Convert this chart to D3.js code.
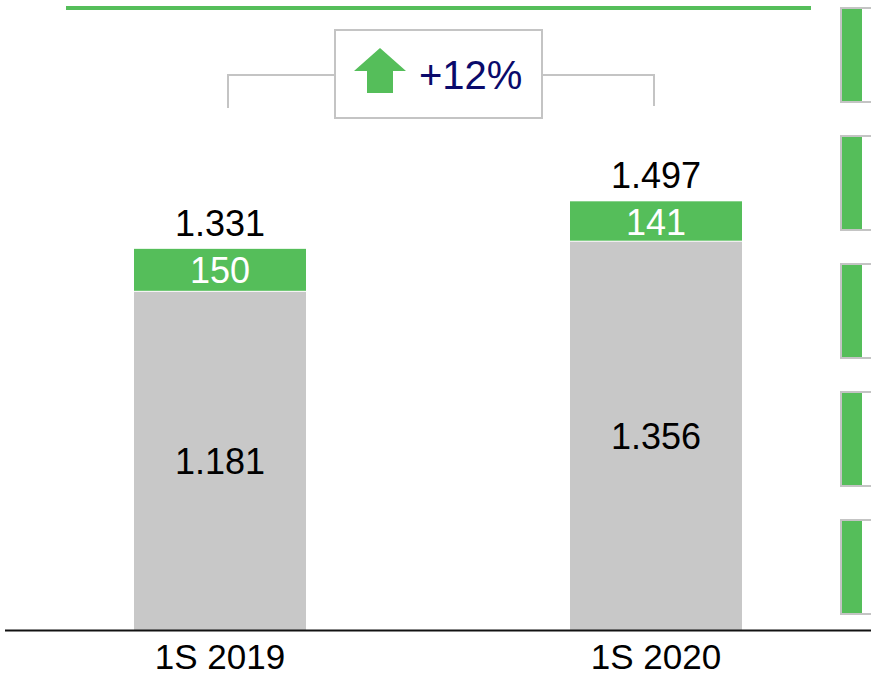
<!DOCTYPE html>
<html>
<head>
<meta charset="utf-8">
<script src="https://cdn.jsdelivr.net/npm/d3@7"></script>
<style>
  html, body { margin: 0; padding: 0; background: #fff; }
  svg { display: block; font-family: "Liberation Sans", Arial, sans-serif; }
</style>
</head>
<body>
<svg id="chart" width="871" height="677"></svg>
<script>
const categories = ["1S 2019", "1S 2020"];
const baseValues = [1181, 1356];
const topValues = [150, 141];
const totalLabels = ["1.331", "1.497"];
const baseLabels = ["1.181", "1.356"];
const topLabels = ["150", "141"];
const changeLabel = "+12%";
const sidePanels = [0, 1, 2, 3, 4];

const GREEN = "#55be5a", GRAY = "#c8c8c8", LINE = "#c4c4c4";
const svg = d3.select("#chart");

const x = d3.scaleBand().domain(categories).range([134, 742]).paddingInner(0.6055).paddingOuter(0);
const y = d3.scaleLinear().domain([0, 2200]).range([630, 0]);

const data = categories.map((c, i) => ({
  c, base: baseValues[i], top: topValues[i],
  total: totalLabels[i], baseL: baseLabels[i], topL: topLabels[i]
}));

// top green rule
svg.append("line").attr("x1", 66).attr("x2", 811).attr("y1", 8).attr("y2", 8)
  .attr("stroke", GREEN).attr("stroke-width", 4);

// bars
const g = svg.append("g");
g.selectAll(".base").data(data).join("rect")
  .attr("x", d => x(d.c)).attr("width", x.bandwidth())
  .attr("y", d => y(d.base)).attr("height", d => y(0) - y(d.base))
  .attr("fill", GRAY);
g.selectAll(".top").data(data).join("rect")
  .attr("x", d => x(d.c)).attr("width", x.bandwidth())
  .attr("y", d => y(d.base + d.top)).attr("height", d => y(d.base) - y(d.base + d.top) - 1)
  .attr("fill", GREEN);

// labels
g.selectAll(".tl").data(data).join("text")
  .attr("x", d => x(d.c) + x.bandwidth() / 2).attr("y", d => y(d.base + d.top) - 13)
  .attr("text-anchor", "middle").attr("font-size", 36).attr("fill", "#000").text(d => d.total);
g.selectAll(".gl").data(data).join("text")
  .attr("x", d => x(d.c) + x.bandwidth() / 2)
  .attr("y", d => (y(d.base) + y(d.base + d.top)) / 2 + 13)
  .attr("text-anchor", "middle").attr("font-size", 36).attr("fill", "#fff").text(d => d.topL);
g.selectAll(".bl").data(data).join("text")
  .attr("x", d => x(d.c) + x.bandwidth() / 2)
  .attr("y", d => (y(d.base) + y(0)) / 2 + 13)
  .attr("text-anchor", "middle").attr("font-size", 36).attr("fill", "#000").text(d => d.baseL);

// baseline
svg.append("line").attr("x1", 5).attr("x2", 871).attr("y1", 630.5).attr("y2", 630.5)
  .attr("stroke", "#111").attr("stroke-width", 2);

// x axis labels
const ax = svg.append("g").attr("transform", "translate(0,630)")
  .call(d3.axisBottom(x).tickSize(0).tickPadding(0));
ax.select(".domain").remove();
ax.selectAll("text").attr("font-size", 35).attr("font-family", "Liberation Sans, Arial, sans-serif")
  .attr("fill", "#000").attr("dy", null).attr("y", 39);

// change bracket
const cx1 = x(categories[0]) + x.bandwidth() / 2 + 8;
const cx2 = x(categories[1]) + x.bandwidth() / 2 - 2;
svg.append("path")
  .attr("d", `M${cx1},108 V75 H335 M542,75 H${cx2} V106`)
  .attr("fill", "none").attr("stroke", LINE).attr("stroke-width", 2);
svg.append("rect").attr("x", 335).attr("y", 30).attr("width", 207).attr("height", 88)
  .attr("fill", "#fff").attr("stroke", LINE).attr("stroke-width", 2);
svg.append("path")
  .attr("d", "M354,71 L380,48 L406,71 L393,71 L393,93 L367,93 L367,71 Z")
  .attr("fill", GREEN);
svg.append("text").attr("x", 419).attr("y", 89).attr("font-size", 40)
  .attr("fill", "#0a0a6b").text(changeLabel);

// cut-off side panels
const sy = d3.scaleBand().domain(sidePanels).range([8, 614]).paddingInner(0.266).paddingOuter(0);
const sp = svg.append("g");
sp.selectAll(".sg").data(sidePanels).join("rect")
  .attr("x", 842).attr("width", 20)
  .attr("y", d => sy(d)).attr("height", sy.bandwidth())
  .attr("fill", GREEN);
sp.selectAll(".sb").data(sidePanels).join("path")
  .attr("d", d => `M871,${sy(d)} H841 V${sy(d) + sy.bandwidth()} H871`)
  .attr("fill", "none").attr("stroke", LINE).attr("stroke-width", 2);
</script>
</body>
</html>
